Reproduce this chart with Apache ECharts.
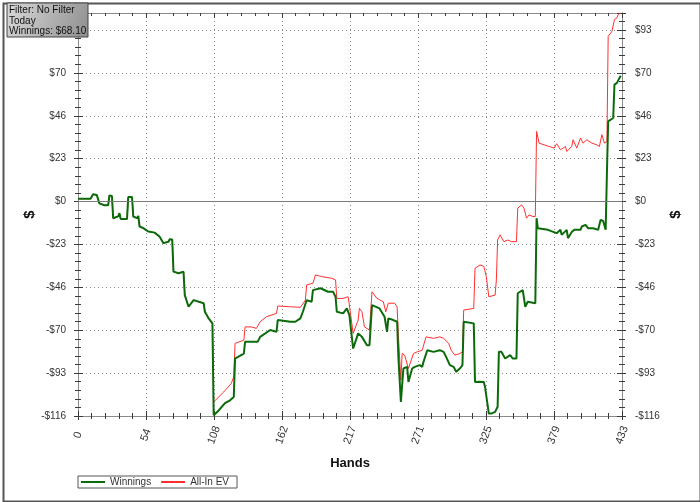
<!DOCTYPE html>
<html>
<head>
<meta charset="utf-8">
<script src="https://cdn.jsdelivr.net/npm/echarts@6/dist/echarts.min.js"></script>
<style>html,body{margin:0;padding:0;background:#fff}#c{width:700px;height:502px}</style>
</head>
<body>
<div id="c"></div>
<script>
// ---- data ----
const xTickMax = 433;
const yMinVal = -116, yMaxVal = 102, yStep = 23.2;
const seriesNames = ['Winnings', 'All-In EV'];
const infoLines = ['Filter: No Filter', 'Today', 'Winnings: $68.10'];

const winHands = [0,10,12,15,17,21,24,25,27,28,32,33,34,39,40,43,44,47,48,49,52,54,56,61,65,68,72,73,75,76,80,84,85,88,92,100,101,104,107,108,112,117,121,124,125,132,133,143,145,153,158,159,169,173,177,179,182,186,187,193,199,203,205,206,211,214,216,219,220,223,224,226,230,232,234,240,244,246,247,251,252,254,255,257,258,259,262,263,264,266,268,272,274,275,278,283,288,291,293,296,299,301,304,306,307,315,316,320,323,324,326,327,329,332,334,335,337,340,344,346,349,350,354,356,358,364,365,366,374,381,384,385,389,390,393,395,400,401,404,406,410,414,416,418,420,421,422,426,427,429,431,432];
const winValues = [1.5,1.5,4,3.5,-1,-2,-2,3.3,3,-9,-8,-6.3,-9.5,-9.5,2.4,2.4,-8.1,-9,-7.8,-13.5,-14.4,-15.3,-16.2,-16.8,-19,-22.5,-21.7,-20.4,-20.5,-37.9,-38.8,-38,-50.6,-56.9,-53.3,-55,-59.6,-63.2,-65.9,-115.6,-113,-109,-107.5,-105.7,-84.9,-82.2,-75.9,-75.9,-73.2,-69.5,-70.5,-64.1,-65,-65,-63.2,-59.6,-53.3,-54.2,-47.9,-46.9,-48.8,-48.8,-51.5,-59.6,-60.5,-57.8,-61.4,-79.5,-80.4,-71.3,-70.5,-73.2,-77.7,-77.7,-56,-57.8,-62.3,-70.5,-63.2,-64.1,-63.2,-65,-84,-108.4,-108.4,-90.3,-89.4,-97.6,-97.6,-90.3,-89.4,-88.5,-89.4,-86.7,-80.4,-81.3,-80.4,-81.3,-84,-88.5,-89.4,-92.1,-90.3,-88.5,-65,-65.9,-97.6,-97.5,-97.6,-100.3,-110,-114.7,-114.7,-113.8,-111,-81.3,-81.3,-84.9,-83.1,-84.9,-84.9,-49.6,-47.9,-56.9,-54.2,-55,-9,-14.4,-15.3,-17.1,-15.3,-18,-15.3,-19.8,-16.5,-15.3,-15.3,-13.5,-12.6,-14.4,-14.4,-15.3,-9.9,-10.5,-15.3,15.4,43.4,45.2,63.3,64.2,66.9,68.1];

const evHands = [0,10,12,15,17,21,24,25,27,28,32,33,34,39,40,43,44,47,48,49,52,54,56,61,65,68,72,73,75,76,80,84,85,88,92,100,101,104,107,108,116,122,124,125,132,133,138,142,145,150,158,159,169,177,181,182,187,189,194,202,205,206,211,215,216,219,220,223,224,226,228,232,234,238,243,245,247,252,254,255,257,258,260,263,264,267,270,274,275,277,283,288,291,295,297,300,304,306,307,315,316,320,323,325,327,332,333,334,336,339,342,345,349,350,353,355,357,359,362,364,365,367,371,375,379,381,384,388,389,393,394,397,400,402,405,409,413,415,417,419,421,422,425,427,429,430,432];
const evValues = [1.5,1.5,4,3.5,-1,-2,-2,3.3,3,-9,-8,-6.3,-9.5,-9.5,2.4,2.4,-8.1,-9,-7.8,-13.5,-14.4,-15.3,-16.2,-16.8,-19,-22.5,-21.7,-20.4,-20.5,-37.9,-38.8,-38,-50.6,-56.9,-53.3,-55,-59.6,-63.2,-65.9,-108.4,-103,-98.4,-94.8,-76.7,-75,-67.8,-67.8,-68.6,-65,-62.3,-60.5,-56.5,-56.9,-57.2,-53.3,-45.1,-44.2,-39.7,-40.6,-41.5,-42.4,-52.4,-52.4,-51.5,-56,-71.3,-72.2,-64.1,-57.8,-59.6,-67.8,-69.5,-48.8,-52.4,-54.2,-59.6,-55,-55,-56.9,-72.2,-96.6,-82.2,-83.1,-90.3,-90.3,-82.2,-81.3,-80.4,-79.5,-73.2,-74,-73.2,-74,-76.7,-80.4,-83.1,-82.2,-81.3,-58.7,-57.8,-36.1,-34.3,-35,-40.6,-51.5,-50.6,-42.4,-20.8,-18,-21.7,-20.8,-21.7,-21.7,-3.6,-1.8,-3.6,-9,-7.2,-8.1,-8.1,37.9,31.6,30.7,29.8,28.9,31.3,28,29.8,27.1,29.8,33.4,28.9,34.4,31.6,33.4,31.6,30.7,29.8,36.2,31.6,32.5,89.4,92.1,98.5,99.4,101.2,102];

// ---- chart ----
const FONT = 'Liberation Sans, Arial, sans-serif';
const axisLineColor = '#8a8a8a', tickColor = '#3a3a3a';
const winData = winHands.map((h, i) => [h, winValues[i]]);
const evData = evHands.map((h, i) => [h, evValues[i]]);

function dollar(v) {
  const k = v / yStep;
  if (Math.abs(k - Math.round(k)) > 1e-6) return '';
  const r = Math.round(v);
  if (r === 0) return '$0';
  return r < 0 ? '-$' + (-r) : '$' + r;
}

const xBase = {type: 'value', min: 0, max: xTickMax, interval: xTickMax / 8, gridIndex: 0};
const yBase = {type: 'value', min: yMinVal, max: yMaxVal, interval: yStep, gridIndex: 0};
const lineAx = {show: true, onZero: false, lineStyle: {color: axisLineColor, width: 1}};

function xAx(extra) { return Object.assign({}, xBase, extra); }
function yAx(extra) { return Object.assign({}, yBase, extra); }

const option = {
  animation: false,
  backgroundColor: '#fff',
  grid: {left: 78, right: 78, top: 13, bottom: 86, containLabel: false},
  xAxis: [
    xAx({position: 'bottom', axisLine: lineAx,
      axisTick: {show: true, length: 4, lineStyle: {color: tickColor}},
      minorTick: {show: true, splitNumber: 5, length: 3, lineStyle: {color: tickColor}},
      axisLabel: {rotate: 70, margin: 19, fontSize: 11, color: '#333', fontFamily: FONT,
        align: 'center', verticalAlign: 'middle',
        formatter: v => String(Math.round(v))},
      splitLine: {show: true, lineStyle: {type: [1, 3], color: '#8c8c8c'}},
      name: 'Hands', nameLocation: 'middle', nameGap: 41, nameMoveOverlap: false,
      nameTextStyle: {fontSize: 13, fontWeight: 'bold', color: '#111', fontFamily: FONT}}),
    xAx({position: 'bottom', axisLine: lineAx,
      axisTick: {show: true, inside: true, length: 5, lineStyle: {color: tickColor}},
      minorTick: {show: true, splitNumber: 5, length: 3, lineStyle: {color: tickColor}},
      axisLabel: {show: false}, splitLine: {show: false}}),
    xAx({position: 'top', axisLine: lineAx,
      axisTick: {show: true, inside: true, length: 5, lineStyle: {color: tickColor}},
      minorTick: {show: true, splitNumber: 5, length: 3, lineStyle: {color: tickColor}},
      axisLabel: {show: false}, splitLine: {show: false}})
  ],
  yAxis: [
    yAx({position: 'left', axisLine: lineAx,
      axisTick: {show: true, length: 4, lineStyle: {color: tickColor}},
      minorTick: {show: true, splitNumber: 5, length: 3, lineStyle: {color: tickColor}},
      axisLabel: {margin: 12, fontSize: 10, color: '#333', fontFamily: FONT, formatter: dollar},
      splitLine: {show: true, lineStyle: {type: [1, 3], color: '#8c8c8c'}},
      name: '$', nameLocation: 'middle', nameGap: 41, nameRotate: 90, nameMoveOverlap: false,
      nameTextStyle: {fontSize: 15, fontWeight: 'bold', color: '#111', fontFamily: FONT}}),
    yAx({position: 'left', axisLine: lineAx,
      axisTick: {show: true, inside: true, length: 5, lineStyle: {color: tickColor}},
      minorTick: {show: true, splitNumber: 5, length: 3, lineStyle: {color: tickColor}},
      axisLabel: {show: false}, splitLine: {show: false}}),
    yAx({position: 'right', axisLine: lineAx,
      axisTick: {show: true, length: 4, lineStyle: {color: tickColor}},
      minorTick: {show: true, splitNumber: 5, length: 3, lineStyle: {color: tickColor}},
      axisLabel: {margin: 13, fontSize: 10, color: '#333', fontFamily: FONT, formatter: dollar},
      splitLine: {show: false},
      name: '$', nameLocation: 'middle', nameGap: 46, nameRotate: 90, nameMoveOverlap: false,
      nameTextStyle: {fontSize: 15, fontWeight: 'bold', color: '#111', fontFamily: FONT}}),
    yAx({position: 'right', axisLine: lineAx,
      axisTick: {show: true, inside: true, length: 5, lineStyle: {color: tickColor}},
      minorTick: {show: true, splitNumber: 5, length: 3, lineStyle: {color: tickColor}},
      axisLabel: {show: false}, splitLine: {show: false}})
  ],
  legend: {
    data: seriesNames, left: 78, top: 476, orient: 'horizontal',
    icon: 'rect', itemWidth: 24, itemHeight: 2, itemGap: 10,
    padding: [1, 8, 1, 3], borderColor: '#555', borderWidth: 1, borderRadius: 0,
    backgroundColor: '#fff',
    textStyle: {fontSize: 10, color: '#333', fontFamily: FONT}
  },
  series: [
    {type: 'line', name: seriesNames[1], data: evData, xAxisIndex: 0, yAxisIndex: 0,
      symbol: 'none', showSymbol: false, z: 2,
      lineStyle: {color: '#ff3030', width: 1}, itemStyle: {color: '#ff3030'},
      markLine: {silent: true, symbol: 'none', label: {show: false},
        lineStyle: {color: '#7a7a7a', type: 'solid', width: 1},
        data: [{yAxis: 0}]}},
    {type: 'line', name: seriesNames[0], data: winData, xAxisIndex: 0, yAxisIndex: 0,
      symbol: 'none', showSymbol: false, z: 3,
      lineStyle: {color: '#0b6b0b', width: 2}, itemStyle: {color: '#0b6b0b'}}
  ],
  graphic: [
    {type: 'rect', left: 1, top: 1, z: 100, zlevel: 1, shape: {x: 0, y: 0, width: 697, height: 498},
      style: {fill: 'none', stroke: '#555', lineWidth: 2}, silent: true},
    {type: 'rect', x: 7, y: 3, z: 100, zlevel: 1, shape: {x: 0, y: 0, width: 81, height: 34},
      style: {fill: new echarts.graphic.LinearGradient(0, 0, 1, 1, [
        {offset: 0, color: '#dadada'}, {offset: 1, color: '#8e8e8e'}]),
        stroke: '#444', lineWidth: 1}},
    {type: 'text', x: 9, y: 5, z: 101, zlevel: 1, style: {text: infoLines.join('\n'), fontSize: 10,
      lineHeight: 10.5, fill: '#111', fontFamily: FONT}}
  ]
};

const chart = echarts.init(document.getElementById('c'), null, {renderer: 'canvas'});
chart.setOption(option);
</script>
</body>
</html>
